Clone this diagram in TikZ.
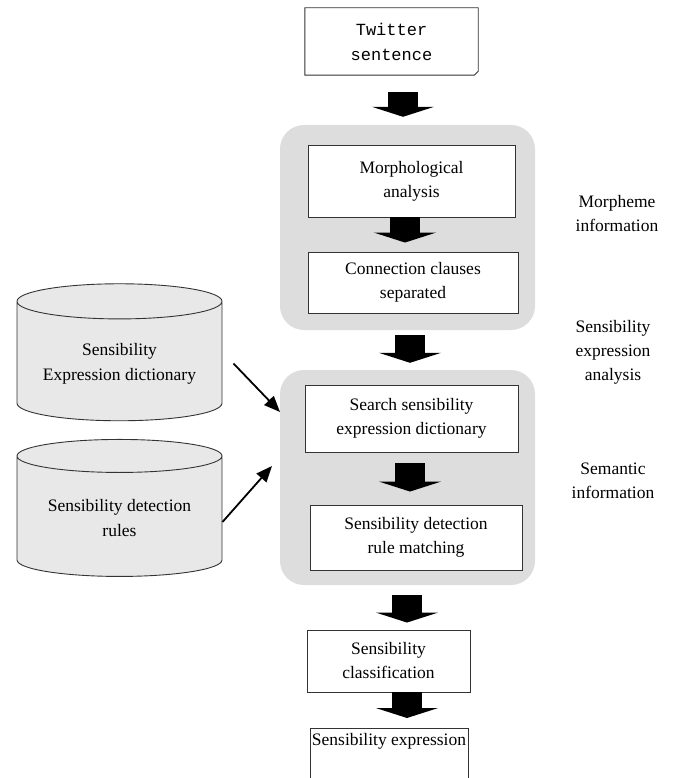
\documentclass[tikz,border=0pt]{standalone}
\usepackage{fontspec}
\setmainfont{Liberation Serif}
\newfontfamily\twfont{Liberation Mono}
\usetikzlibrary{arrows.meta,shapes.geometric}
\definecolor{groupgray}{RGB}{221,221,221}
\definecolor{dbgray}{RGB}{232,232,232}
\tikzset{
  stepbox/.style={draw=black!80,fill=white,line width=0.9pt,align=center,
    inner sep=2pt,font=\fontsize{17.5}{24}\selectfont},
  group/.style={fill=groupgray,rounded corners=24pt},
  dbase/.style={cylinder,shape border rotate=90,draw=black!80,fill=dbgray,
    line width=0.9pt,minimum width=205pt,minimum height=137pt,aspect=0.22,
    align=center,font=\fontsize{17.5}{25}\selectfont},
  sidelabel/.style={align=center,font=\fontsize{17.5}{24}\selectfont},
  blockarrow/.style={line width=30pt,-{Triangle[width=62pt,length=10pt]}},
  feed/.style={line width=1.8pt,-{Triangle[length=16pt,width=13pt]}}
}
\begin{document}
\begin{tikzpicture}[x=1pt,y=-1pt]
  \useasboundingbox (0,0) rectangle (683,778);
  \clip (0,0) rectangle (683,778);

  % gray groups
  \node[group,minimum width=255pt,minimum height=205pt] (g1) at (407.5,227.5) {};
  \node[group,minimum width=255pt,minimum height=215pt] (g2) at (407.5,477.5) {};

  % input document
  \node[minimum width=173pt,minimum height=67pt,align=center,
    font=\twfont\fontsize{17}{25}\selectfont] (tw) at (391.5,41.5) {Twitter\\sentence};
  \draw[black!80,line width=0.9pt] (tw.north west) -- (tw.north east)
    -- ([yshift=4pt]tw.south east) -- ([xshift=-4pt]tw.south east)
    -- (tw.south west) -- cycle;

  % steps
  \node[stepbox,minimum width=207pt,minimum height=72pt] (morph) at (411.5,181) {Morphological\\analysis};
  \node[stepbox,minimum width=210pt,minimum height=61pt] (conn) at (413,282.5) {Connection clauses\\separated};
  \node[stepbox,minimum width=213pt,minimum height=67pt] (search) at (411.5,418.5) {Search sensibility\\expression dictionary};
  \node[stepbox,minimum width=212pt,minimum height=65pt] (detect) at (416,537.5) {Sensibility detection\\rule matching};
  \node[stepbox,minimum width=163pt,minimum height=62pt] (classify) at (388.5,661) {Sensibility\\classification};
  \node[stepbox,minimum width=158pt,anchor=north,text height=15pt,text depth=44pt] (express) at (389,728) {Sensibility expression};

  % dictionaries
  \node[dbase] (dict) at (119.5,363.5) {Sensibility\\Expression dictionary};
  \node[dbase] (rules) at (119.5,518.5) {Sensibility detection\\rules};

  % side labels
  \node[sidelabel] (morphinfo) at (617,214) {Morpheme\\information};
  \node[sidelabel] (analysis) at (613,352) {Sensibility\\expression\\analysis};
  \node[sidelabel] (seminfo) at (613,481) {Semantic\\information};

  % block arrows
  \coordinate (ax1) at (403,0);
  \coordinate (ax2) at (405,0);
  \coordinate (ax3) at (410,0);
  \coordinate (ax4) at (407,0);
  \draw[blockarrow,shorten <=17pt,shorten >=8pt] (tw.south -| ax1) -- (g1.north -| ax1);
  \draw[blockarrow,shorten >=9pt] (morph.south -| ax2) -- (conn.north -| ax2);
  \draw[blockarrow,shorten <=5pt,shorten >=7pt] (g1.south -| ax3) -- (g2.north -| ax3);
  \draw[blockarrow,shorten <=11pt,shorten >=13pt] (search.south -| ax3) -- (detect.north -| ax3);
  \draw[blockarrow,shorten <=10pt,shorten >=7pt] (g2.south -| ax4) -- (classify.north -| ax4);
  \draw[blockarrow,shorten >=10pt] (classify.south -| ax4) -- (express.north -| ax4);

  % dictionary inputs
  \coordinate (in1) at (280,412);
  \coordinate (in2) at (272,466);
  \draw[feed] ([xshift=11pt]dict.east) -- (in1);
  \draw[feed] ([yshift=-3.5pt]rules.east) -- (in2);
\end{tikzpicture}
\end{document}
